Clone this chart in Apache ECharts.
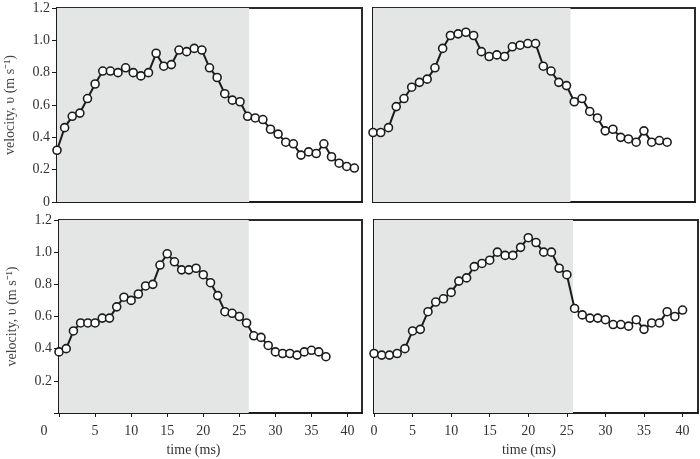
<!DOCTYPE html>
<html>
<head>
<meta charset="utf-8">
<script src="https://cdn.jsdelivr.net/npm/echarts@6/dist/echarts.min.js"></script>
<style>
  html, body { margin: 0; background: #fff; }
  #chart { width: 700px; height: 459px; }
</style>
</head>
<body>
<div id="chart"></div>
<script>
// velocity (m/s), one sample per ms starting at 0
const topLeft = [0.32, 0.46, 0.53, 0.55, 0.64, 0.73, 0.81, 0.81, 0.80, 0.83, 0.80, 0.78, 0.80, 0.92, 0.84, 0.85,
  0.94, 0.93, 0.95, 0.94, 0.83, 0.77, 0.67, 0.63, 0.62, 0.53, 0.52, 0.51, 0.45, 0.42, 0.37, 0.36, 0.29, 0.31,
  0.30, 0.36, 0.28, 0.24, 0.22, 0.21];
const topRight = [0.43, 0.43, 0.46, 0.59, 0.64, 0.71, 0.74, 0.76, 0.83, 0.95, 1.03, 1.04, 1.05, 1.03, 0.93, 0.90,
  0.91, 0.90, 0.96, 0.97, 0.98, 0.98, 0.84, 0.81, 0.74, 0.72, 0.62, 0.64, 0.56, 0.52, 0.44, 0.45, 0.40, 0.39,
  0.37, 0.44, 0.37, 0.38, 0.37];
const bottomLeft = [0.38, 0.40, 0.51, 0.56, 0.56, 0.56, 0.59, 0.59, 0.66, 0.72, 0.70, 0.74, 0.79, 0.80, 0.92, 0.99,
  0.94, 0.89, 0.89, 0.90, 0.86, 0.81, 0.73, 0.63, 0.62, 0.60, 0.56, 0.48, 0.47, 0.42, 0.38, 0.37, 0.37, 0.36,
  0.38, 0.39, 0.38, 0.35];
const bottomRight = [0.37, 0.36, 0.36, 0.37, 0.40, 0.51, 0.52, 0.63, 0.69, 0.71, 0.75, 0.82, 0.84, 0.91, 0.93, 0.95,
  1.00, 0.98, 0.98, 1.03, 1.09, 1.06, 1.00, 1.00, 0.90, 0.86, 0.65, 0.61, 0.59, 0.59, 0.58, 0.55, 0.55, 0.54,
  0.58, 0.52, 0.56, 0.56, 0.63, 0.60, 0.64];

const panels = [topLeft, topRight, bottomLeft, bottomRight];
const shadeEnds = [25.2, 25.5, 26.3, 25.8]; // end of grey phase (ms)
const xMax = [40, 41.6, 42, 42];
const yMax = 1.2;
const yStep = 0.2;
const xStep = 5;

const FONT = 'Liberation Serif';
const INK = '#1c1c1c';

const grids = [
  { left: 57, top: 8, width: 305, height: 194 },
  { left: 373, top: 8, width: 322, height: 194 },
  { left: 59, top: 220, width: 303, height: 193 },
  { left: 374, top: 220, width: 324, height: 193 }
];

const chart = echarts.init(document.getElementById('chart'), null, { renderer: 'canvas' });

const labelStyle = { fontFamily: FONT, fontSize: 14, color: '#333' };

const option = {
  animation: false,
  grid: grids.map(g => ({ ...g, show: true, borderColor: '#2b2b2b', borderWidth: 2, backgroundColor: 'transparent' })),
  xAxis: panels.map((_, i) => {
    const isBottom = i >= 2;
    return {
      type: 'value',
      gridIndex: i,
      min: 0,
      max: xMax[i],
      interval: xStep,
      splitLine: { show: false },
      axisLine: { show: true, lineStyle: { color: INK, width: 2 } },
      axisTick: { show: isBottom, length: 4, lineStyle: { color: INK } },
      axisLabel: {
        show: isBottom,
        showMaxLabel: false,
        margin: 11,
        ...labelStyle,
        formatter: v => (v === 0 && i === 2 ? '{z|0}' : String(v)),
        rich: { z: { ...labelStyle, padding: [0, 30, 0, 0] } }
      },
      name: isBottom ? 'time (ms)' : '',
      nameLocation: 'middle',
      nameGap: 30,
      nameTextStyle: { ...labelStyle, padding: i === 2 ? [0, 34, 0, 0] : [0, 14, 0, 0] }
    };
  }),
  yAxis: panels.map((_, i) => {
    const isLeft = i % 2 === 0;
    return {
      type: 'value',
      gridIndex: i,
      min: 0,
      max: yMax,
      interval: yStep,
      splitLine: { show: false },
      axisLine: { show: true, lineStyle: { color: INK, width: 2 } },
      axisTick: { show: isLeft, length: 5, lineStyle: { color: INK } },
      axisLabel: {
        show: isLeft,
        margin: 7,
        ...labelStyle,
        formatter: v => (v === 0 ? (i === 0 ? '0' : '') : v.toFixed(1))
      },
      name: isLeft ? 'velocity, υ (m s⁻¹)' : '',
      nameLocation: 'middle',
      nameGap: 40,
      nameTextStyle: { ...labelStyle, color: '#444' }
    };
  }),
  series: panels.map((vals, i) => ({
    type: 'line',
    xAxisIndex: i,
    yAxisIndex: i,
    data: vals.map((v, t) => [t, v]),
    symbol: 'circle',
    symbolSize: 8,
    showAllSymbol: true,
    lineStyle: { color: INK, width: 2 },
    itemStyle: { color: '#fff', borderColor: INK, borderWidth: 1.6 },
    markArea: {
      silent: true,
      itemStyle: { color: '#e4e5e5' },
      data: [[{ xAxis: 0 }, { xAxis: shadeEnds[i] }]]
    }
  }))
};

chart.setOption(option);
</script>
</body>
</html>
